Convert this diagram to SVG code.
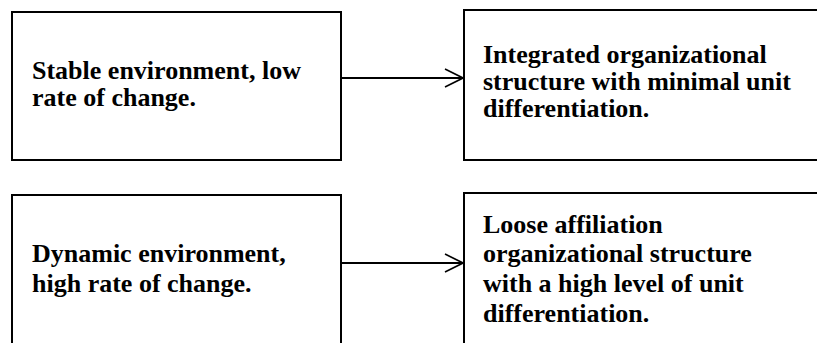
<svg xmlns="http://www.w3.org/2000/svg" width="817" height="343" viewBox="0 0 817 343">
<style>
.box{fill:#fff;stroke:#000;stroke-width:2}
.t{font-family:"Liberation Serif","Times New Roman",serif;font-weight:bold;font-size:26px;fill:#000}
.c{stroke:#000;stroke-width:2;fill:none}
</style>
<defs>
<marker id="ah" viewBox="0 0 20 20" refX="19" refY="10" markerWidth="20" markerHeight="20" markerUnits="userSpaceOnUse" orient="auto">
<path d="M1,1 L19,10 L1,19" fill="none" stroke="#000" stroke-width="1.6"/>
</marker>
</defs>
<rect width="817" height="343" fill="#fff"/>
<g id="n1"><rect class="box" x="12" y="12" width="329" height="148"/>
<text class="t"><tspan x="32" y="79">Stable environment, low</tspan><tspan x="32" y="106">rate of change.</tspan></text></g>
<g id="n2"><rect class="box" x="464" y="10" width="360" height="150"/>
<text class="t"><tspan x="483" y="63">Integrated organizational</tspan><tspan x="483" y="90">structure with minimal unit</tspan><tspan x="483" y="117">differentiation.</tspan></text></g>
<g id="n3"><rect class="box" x="12" y="195" width="329" height="160"/>
<text class="t"><tspan x="32" y="262">Dynamic environment,</tspan><tspan x="32" y="292">high rate of change.</tspan></text></g>
<g id="n4"><rect class="box" x="464" y="193" width="360" height="160"/>
<text class="t"><tspan x="483" y="233">Loose affiliation</tspan><tspan x="483" y="262">organizational structure</tspan><tspan x="483" y="292">with a high level of unit</tspan><tspan x="483" y="322">differentiation.</tspan></text></g>
<g id="connectors">
<line class="c" x1="342" y1="78" x2="463" y2="78" marker-end="url(#ah)"/>
<line class="c" x1="342" y1="263" x2="463" y2="263" marker-end="url(#ah)"/>
</g>
</svg>
